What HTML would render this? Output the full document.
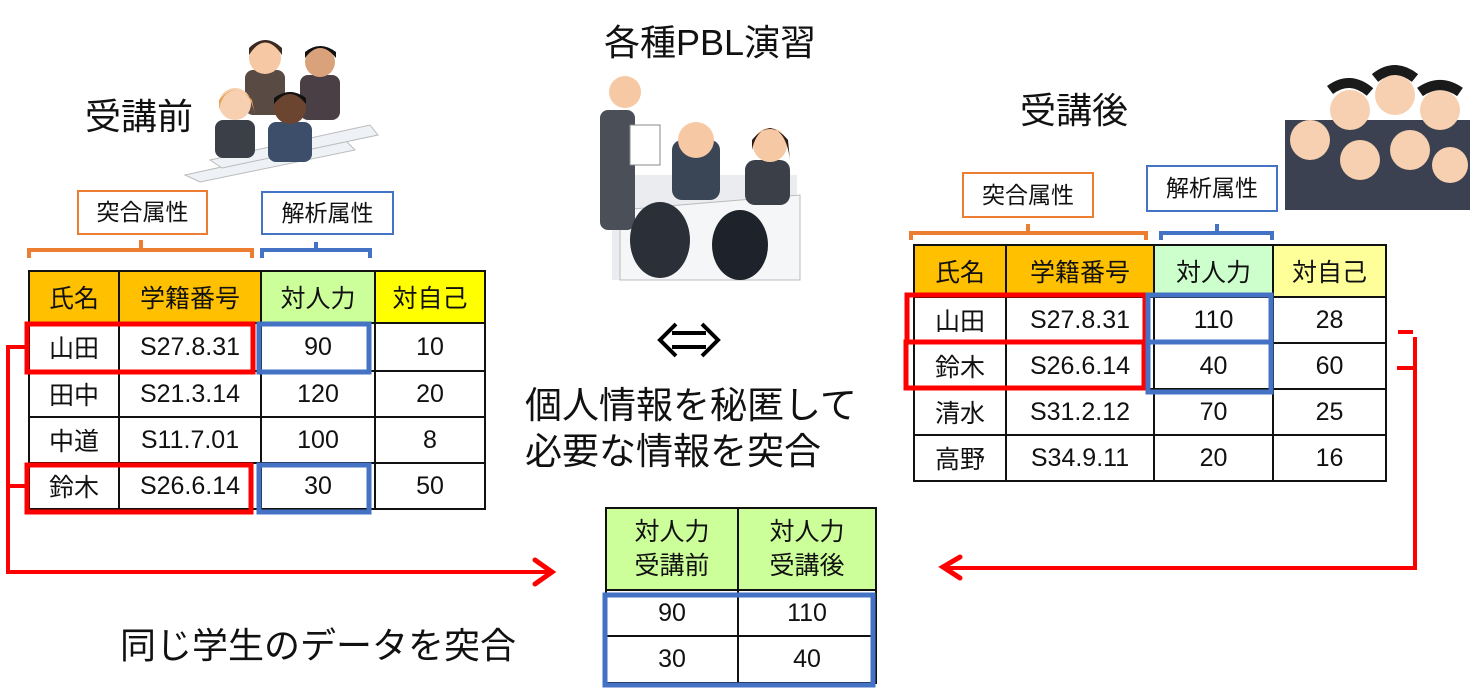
<!DOCTYPE html>
<html><head><meta charset="utf-8"><style>
body{margin:0;width:1470px;height:693px;background:#fff;position:relative;overflow:hidden;font-family:"Liberation Sans","Noto Sans CJK JP",sans-serif;color:#111}
.t{position:absolute;white-space:nowrap}
table{position:absolute;border-collapse:collapse;table-layout:fixed}
td{border:2px solid #111;text-align:center;font-size:25px;padding:0;font-family:"Liberation Sans","Noto Sans CJK JP",sans-serif}
.box{position:absolute;background:#fff;font-size:23px;text-align:center;box-sizing:border-box}
svg{position:absolute;left:0;top:0}
</style></head><body>

<div class="t" style="left:85px;top:88px;font-size:36px">受講前</div>
<div class="t" style="left:1020px;top:82px;font-size:36px">受講後</div>
<div class="t" style="left:604px;top:14px;font-size:36px">各種PBL演習</div>
<div class="t" style="left:525px;top:383px;font-size:37px;line-height:46px">個人情報を秘匿して<br>必要な情報を突合</div>
<div class="t" style="left:120px;top:617px;font-size:36px">同じ学生のデータを突合</div>

<div class="box" style="left:77px;top:190px;width:131px;height:45px;border:2px solid #ED7D31;line-height:41px">突合属性</div>
<div class="box" style="left:261px;top:191px;width:133px;height:44px;border:2px solid #4472C4;line-height:40px">解析属性</div>
<div class="box" style="left:962px;top:172px;width:132px;height:46px;border:2px solid #ED7D31;line-height:42px">突合属性</div>
<div class="box" style="left:1146px;top:165px;width:132px;height:47px;border:2px solid #4472C4;line-height:43px">解析属性</div>

<table style="left:28px;top:270px;width:458px">
<tr style="height:52px"><td style="width:88px;background:#FFC000">氏名</td><td style="width:140px;background:#FFC000">学籍番号</td><td style="width:112px;background:#CCFF99">対人力</td><td style="background:#FFFF00">対自己</td></tr>
<tr style="height:48px"><td>山田</td><td>S27.8.31</td><td>90</td><td>10</td></tr>
<tr style="height:46px"><td>田中</td><td>S21.3.14</td><td>120</td><td>20</td></tr>
<tr style="height:46px"><td>中道</td><td>S11.7.01</td><td>100</td><td>8</td></tr>
<tr style="height:46px"><td>鈴木</td><td>S26.6.14</td><td>30</td><td>50</td></tr>
</table>

<table style="left:913px;top:244px;width:474px">
<tr style="height:52px"><td style="width:90px;background:#FFC000">氏名</td><td style="width:146px;background:#FFC000">学籍番号</td><td style="width:117px;background:#CCFFCC">対人力</td><td style="background:#FFFF99">対自己</td></tr>
<tr style="height:46px"><td>山田</td><td>S27.8.31</td><td>110</td><td>28</td></tr>
<tr style="height:46px"><td>鈴木</td><td>S26.6.14</td><td>40</td><td>60</td></tr>
<tr style="height:46px"><td>清水</td><td>S31.2.12</td><td>70</td><td>25</td></tr>
<tr style="height:46px"><td>高野</td><td>S34.9.11</td><td>20</td><td>16</td></tr>
</table>

<table style="left:605px;top:507px;width:272px">
<tr style="height:82px"><td style="width:130px;background:#CCFF99;line-height:34px">対人力<br>受講前</td><td style="background:#CCFF99;line-height:34px">対人力<br>受講後</td></tr>
<tr style="height:46px"><td>90</td><td>110</td></tr>
<tr style="height:47px"><td>30</td><td>40</td></tr>
</table>

<svg width="1470" height="693">
<!-- double arrow -->
<path d="M672 333 H706 M672 347 H706" stroke="#000" stroke-width="4"/>
<path d="M676 324 L660 340 L676 356 M702 324 L718 340 L702 356" fill="none" stroke="#000" stroke-width="4" stroke-linejoin="miter"/>
<!-- brackets -->
<path d="M29 258 V250 H252 V258 M141 250 V240" fill="none" stroke="#ED7D31" stroke-width="4"/>
<path d="M262 258 V250 H370 V258 M316 250 V242" fill="none" stroke="#4472C4" stroke-width="4"/>
<path d="M911 240 V233 H1146 V240 M1028 233 V224" fill="none" stroke="#ED7D31" stroke-width="4"/>
<path d="M1161 240 V233 H1272 V240 M1217 233 V224" fill="none" stroke="#4472C4" stroke-width="4"/>
<!-- left red/blue boxes -->
<rect x="27" y="324" width="226" height="48" fill="none" stroke="#f00" stroke-width="5"/>
<rect x="27" y="465" width="224" height="47" fill="none" stroke="#f00" stroke-width="5"/>
<rect x="259" y="324" width="110" height="48" fill="none" stroke="#4472C4" stroke-width="5"/>
<rect x="259" y="465" width="110" height="47" fill="none" stroke="#4472C4" stroke-width="5"/>
<path d="M25 347 H8 V572 H548 M8 486 H25" fill="none" stroke="#f00" stroke-width="4"/>
<path d="M535 560 L552 572 L535 584" fill="none" stroke="#f00" stroke-width="5" stroke-linecap="round"/>
<!-- right boxes -->
<rect x="907" y="295" width="238" height="47" fill="none" stroke="#f00" stroke-width="5"/>
<rect x="906" y="342" width="238" height="46" fill="none" stroke="#f00" stroke-width="5"/>
<rect x="1148" y="295" width="123" height="97" fill="none" stroke="#4472C4" stroke-width="5"/>
<line x1="1148" y1="342" x2="1271" y2="342" stroke="#4472C4" stroke-width="5"/>
<path d="M1398 332 H1413 M1397 368 H1413 M1415 337 V568 H945" fill="none" stroke="#f00" stroke-width="4"/>
<path d="M960 557 L943 567 L960 578" fill="none" stroke="#f00" stroke-width="5" stroke-linecap="round"/>
<rect x="605" y="595" width="268" height="90" fill="none" stroke="#4472C4" stroke-width="5"/>
<!-- illustrations (simplified) -->
<g>
<path d="M185 175 L345 140 L355 150 L200 182 Z" fill="#eef2f6" stroke="#bbb"/>
<path d="M210 160 L370 125 L378 135 L222 168 Z" fill="#eef2f6" stroke="#bbb"/>
<rect x="245" y="70" width="40" height="45" rx="8" fill="#5a4a44"/><circle cx="265" cy="58" r="16" fill="#f6c9a4"/><path d="M249 55 Q265 30 282 55 L282 48 Q265 32 249 48Z" fill="#3a2a22"/>
<rect x="300" y="75" width="40" height="45" rx="8" fill="#4a3f44"/><circle cx="320" cy="62" r="15" fill="#d9a27a"/><path d="M305 58 Q320 38 336 58 L336 52 Q320 40 305 52Z" fill="#111"/>
<rect x="215" y="120" width="40" height="38" rx="8" fill="#3a3f48"/><circle cx="235" cy="104" r="16" fill="#f6d0b0"/><path d="M219 100 Q235 80 252 100 L255 115 Q250 90 235 90 Q222 92 219 110Z" fill="#e9a35a"/>
<rect x="268" y="122" width="44" height="40" rx="8" fill="#3d4e6b"/><circle cx="290" cy="108" r="16" fill="#6b4530"/><path d="M274 104 Q290 84 306 104 L306 98 Q290 86 274 98Z" fill="#111"/>
</g>
<g>
<rect x="612" y="175" width="185" height="105" fill="#eaecef"/>
<path d="M620 210 L800 195 L800 280 L620 280Z" fill="#f5f6f8" stroke="#bbb"/>
<rect x="600" y="110" width="35" height="120" rx="8" fill="#4a4f58"/><circle cx="625" cy="92" r="16" fill="#f6c9a4"/><rect x="630" y="125" width="30" height="40" fill="#fff" stroke="#888"/>
<rect x="672" y="140" width="48" height="60" rx="10" fill="#3a4556"/><circle cx="696" cy="140" r="18" fill="#f6c9a4"/>
<rect x="745" y="160" width="45" height="45" rx="10" fill="#3a3f48"/><circle cx="770" cy="145" r="17" fill="#f6c9a4"/><path d="M752 140 Q770 118 788 140 L790 160 Q786 130 770 128 Q756 130 752 150Z" fill="#2a1d18"/>
<ellipse cx="660" cy="240" rx="30" ry="38" fill="#2a2f38"/><ellipse cx="740" cy="245" rx="28" ry="35" fill="#1e222a"/>
</g>
<g>
<rect x="1285" y="120" width="185" height="90" fill="#3b4150"/>
<circle cx="1310" cy="140" r="20" fill="#f6d0b0"/><circle cx="1350" cy="110" r="20" fill="#f6d0b0"/><circle cx="1395" cy="95" r="20" fill="#f6d0b0"/><circle cx="1440" cy="110" r="20" fill="#f6d0b0"/>
<circle cx="1360" cy="160" r="20" fill="#f6d0b0"/><circle cx="1410" cy="150" r="20" fill="#f6d0b0"/><circle cx="1450" cy="165" r="18" fill="#f6d0b0"/>
<path d="M1330 90 Q1350 75 1370 92 M1375 78 Q1395 62 1415 78 M1420 92 Q1440 78 1460 92" stroke="#1a1a1a" stroke-width="10" fill="none"/>
</g>
</svg>
</body></html>
